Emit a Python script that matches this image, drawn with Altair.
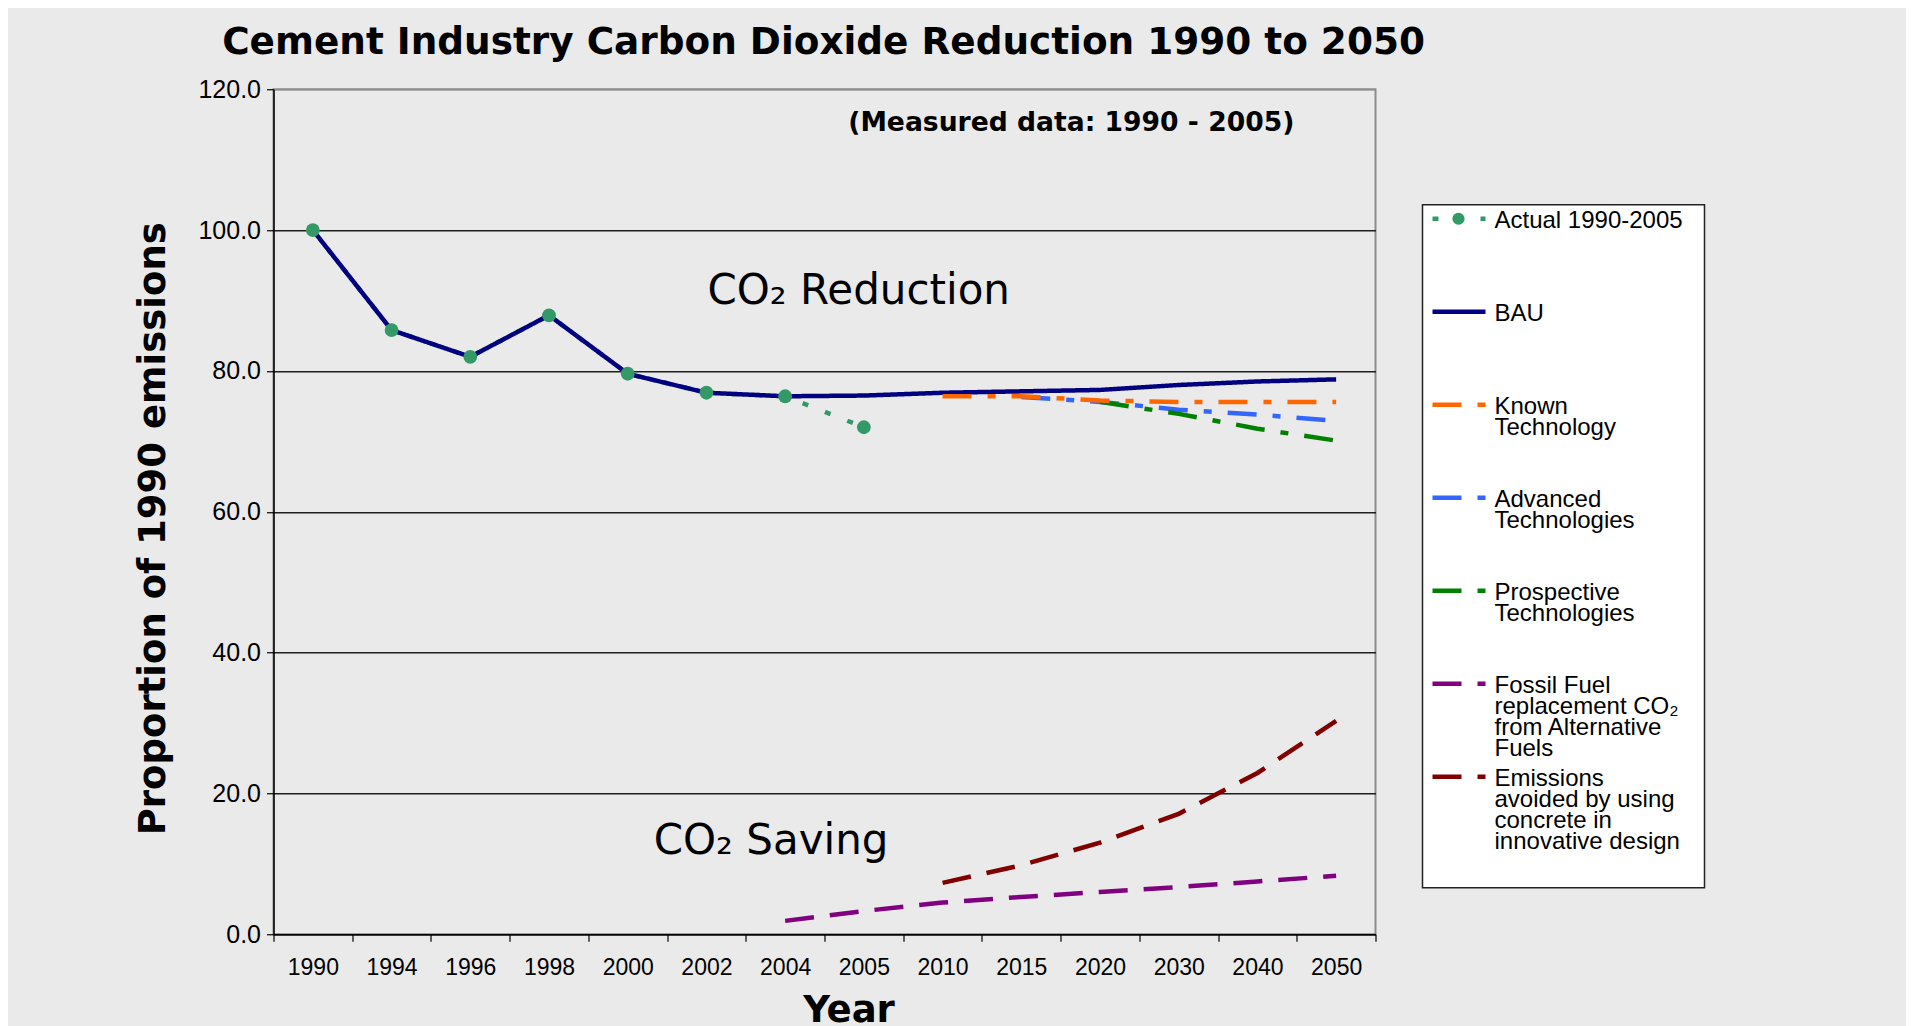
import altair as alt
import pandas as pd

# ---------------- data ----------------
years = ["1990", "1994", "1996", "1998", "2000", "2002", "2004", "2005",
         "2010", "2015", "2020", "2030", "2040", "2050"]

series = ["Actual 1990-2005", "BAU", "Known Technology", "Advanced Technologies",
          "Prospective Technologies",
          "Fossil Fuel replacement CO2 from Alternative Fuels",
          "Emissions avoided by using concrete in innovative design"]

legend_labels = ["Actual 1990-2005", "BAU", "Known|Technology", "Advanced|Technologies",
                 "Prospective|Technologies",
                 "Fossil Fuel|replacement CO\u2082|from Alternative|Fuels",
                 "Emissions|avoided by using|concrete in|innovative design"]

colors = ["#339966", "#000080", "#FF6600", "#3366FF", "#008000", "#800080", "#800000"]
dashes = [[6, 18], [1, 0], [29, 16, 8, 16], [29, 16, 8, 16], [29, 16, 8, 16], [29, 16], [29, 16]]

actual_years = ["1990", "1994", "1996", "1998", "2000", "2002", "2004", "2005"]
actual_values = [100.0, 85.8, 82.0, 87.9, 79.6, 76.9, 76.4, 72.0]

bau_years = years
bau_values = [100.0, 85.8, 82.0, 87.9, 79.6, 76.9, 76.4, 76.5, 76.9, 77.1, 77.3, 78.0, 78.5, 78.8]

known_years = ["2010", "2015", "2020", "2030", "2040", "2050"]
known_values = [76.4, 76.4, 75.8, 75.6, 75.6, 75.6]

advanced_years = ["2015", "2020", "2030", "2040", "2050"]
advanced_values = [76.3, 75.6, 74.5, 73.8, 72.9]

prospective_years = ["2020", "2030", "2040", "2050"]
prospective_values = [75.6, 73.9, 71.8, 70.1]

fossil_years = ["2004", "2005", "2010", "2015", "2020", "2030", "2040", "2050"]
fossil_values = [1.9, 3.3, 4.5, 5.3, 6.0, 6.7, 7.5, 8.3]

emissions_years = ["2010", "2015", "2020", "2030", "2040", "2050"]
emissions_values = [7.3, 9.8, 13.0, 17.1, 22.9, 30.3]

y_ticks = [0, 20, 40, 60, 80, 100, 120]

# ---------------- tables ----------------
def rows(name, yrs, vals):
    return [{"series": name, "year": y, "value": v} for y, v in zip(yrs, vals)]

lines_df = pd.DataFrame(
    rows(series[0], actual_years, actual_values)
    + rows(series[1], bau_years, bau_values)
    + rows(series[3], advanced_years, advanced_values)
    + rows(series[4], prospective_years, prospective_values)
    + rows(series[2], known_years, known_values)
    + rows(series[5], fossil_years, fossil_values)
    + rows(series[6], emissions_years, emissions_values)
)
points_df = pd.DataFrame(rows(series[0], actual_years, actual_values))
legend_df = pd.DataFrame({"series": series, "label": legend_labels})

LAB = "Liberation Sans"
TIT = "DejaVu Sans"

color_scale = alt.Scale(domain=series, range=colors)
dash_scale = alt.Scale(domain=series, range=dashes)

x_axis = alt.Axis(
    title="Year", tickBand="extent", labelAngle=0, labelFont=LAB, labelFontSize=23,
    labelColor="black", labelPadding=15.5, tickSize=7, tickColor="black", tickWidth=1.2,
    domainColor="black", domainWidth=1.5, grid=False, titleFont=TIT, titleFontSize=37,
    titleFontWeight="bold", titleColor="black", titlePadding=13, titleX=575,
)
x_enc = alt.X(
    "year:N",
    scale=alt.Scale(type="band", domain=years, paddingInner=0, paddingOuter=0),
    bandPosition=0.5, axis=x_axis,
)
y_axis = alt.Axis(
    values=y_ticks, format=".1f", title="Proportion of 1990 emissions", grid=True,
    gridColor={"condition": {"test": "datum.value >= 120", "value": "#8c8c8c"}, "value": "#1e1e1e"},
    gridWidth=1.3, domainColor="black", domainWidth=1.5, tickColor="black", tickSize=7,
    tickWidth=1.2, labelFont=LAB, labelFontSize=25, labelColor="black", labelPadding=6,
    titleFont=TIT, titleFontSize=37, titleFontWeight="bold", titleColor="black",
    titlePadding=25.1, titleY=439,
)
y_enc = alt.Y("value:Q", scale=alt.Scale(domain=[0, 120], nice=False, zero=True), axis=y_axis)

lines = alt.Chart(lines_df).mark_line(strokeWidth=4.5, strokeCap="butt").encode(
    x=x_enc, y=y_enc,
    color=alt.Color("series:N", scale=color_scale, legend=None),
    strokeDash=alt.StrokeDash("series:N", scale=dash_scale, legend=None),
)
points = alt.Chart(points_df).mark_circle(size=190, opacity=1).encode(
    x=x_enc, y=y_enc,
    color=alt.Color("series:N", scale=color_scale, legend=None),
)

def note(text, year, value, dx, size, weight, align):
    df = pd.DataFrame({"year": [year], "value": [value], "text": [text]})
    return alt.Chart(df).mark_text(
        font=TIT, fontSize=size, fontWeight=weight, align=align, baseline="middle",
        dx=dx, color="black",
    ).encode(x=x_enc, y=y_enc, text="text:N")

notes = [
    note("CO\u2082 Reduction", "2002", 91.4, 1, 42, "normal", "left"),
    note("CO\u2082 Saving", "2000", 13.25, 26, 42, "normal", "left"),
    note("(Measured data: 1990 - 2005)", "2015", 115.15, 50, 26.6, "bold", "center"),
]

main = alt.layer(lines, points, *notes).properties(
    width=1102, height=845,
    view=alt.ViewBackground(fill="#EAEAEA", stroke="#8c8c8c", strokeWidth=2),
)

ly = alt.Y("series:N", scale=alt.Scale(type="point", domain=series, range=[14, 572], padding=0),
           axis=None)
leg_rules = alt.Chart(legend_df).mark_rule(strokeWidth=4.5, strokeCap="butt").encode(
    x=alt.value(10), x2=alt.value(63), y=ly,
    color=alt.Color("series:N", scale=color_scale, legend=None),
    strokeDash=alt.StrokeDash("series:N", scale=dash_scale, legend=None),
)
leg_dot = alt.Chart(legend_df).transform_filter(
    alt.datum.series == series[0]
).mark_circle(size=150, opacity=1).encode(
    x=alt.value(36), y=ly,
    color=alt.Color("series:N", scale=color_scale, legend=None),
)
leg_text = alt.Chart(legend_df).mark_text(
    align="left", baseline="top", dy=-10, lineBreak="|", font=LAB, fontSize=24,
    lineHeight=21, color="black",
).encode(x=alt.value(72), y=ly, text="label:N")

legend = alt.layer(leg_rules, leg_dot, leg_text).properties(
    width=282, height=683,
    view=alt.ViewBackground(fill="white", stroke="#222222", strokeWidth=1.5),
)

spacer = alt.Chart(pd.DataFrame({"s": [""]})).mark_text().encode(
    x=alt.value(0), y=alt.value(0), text="s:N"
).properties(width=282, height=18, view=alt.ViewBackground(stroke="transparent"))

legend_col = alt.vconcat(legend, spacer, spacing=0)

chart = alt.hconcat(main, legend_col, spacing=44, center=True).resolve_scale(
    x="independent", y="independent"
).properties(
    title=alt.TitleParams(
        "Cement Industry Carbon Dioxide Reduction 1990 to 2050", font=TIT, fontSize=37.4,
        fontWeight="bold", color="black", anchor="middle", dx=-96, offset=15,
    ),
    padding={"left": 125.5, "top": 15, "right": 200, "bottom": 0},
    background="#EAEAEA",
)

chart.save("out.html", embed_options={"renderer": "svg", "actions": False})
